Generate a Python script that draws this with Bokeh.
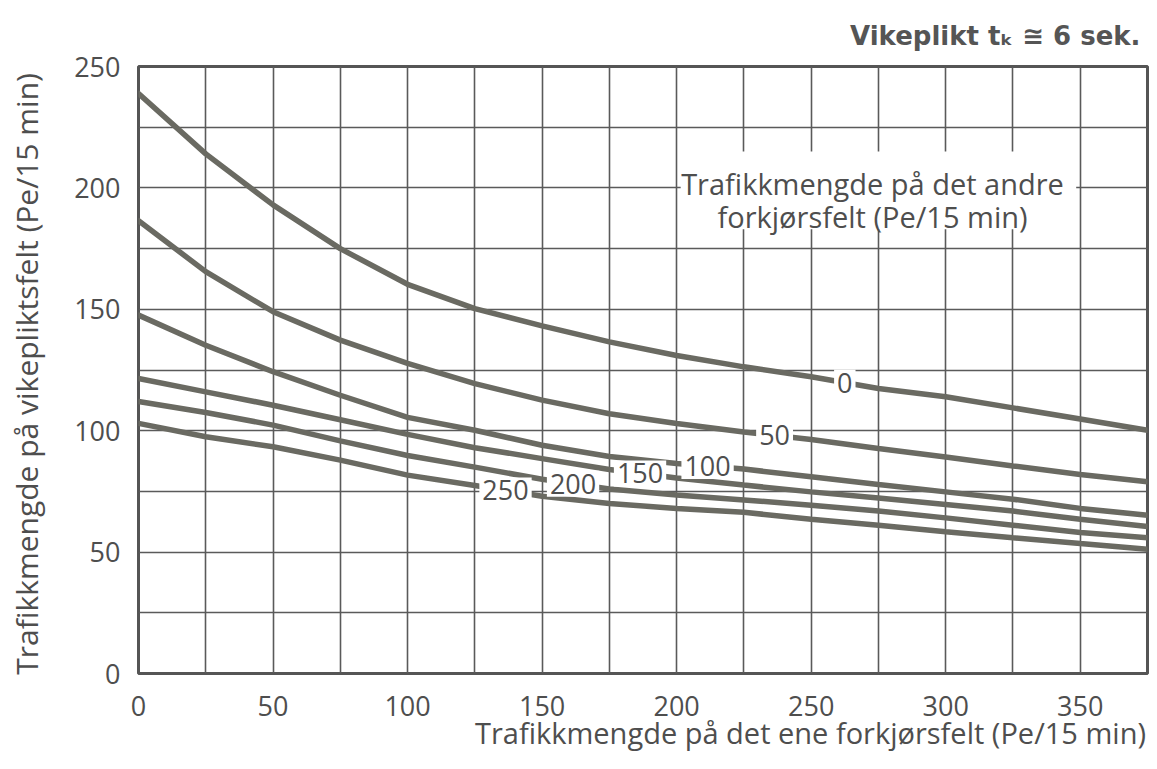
import numpy as np
from bokeh.plotting import figure
from bokeh.models import Range1d, FixedTicker, Label, BoxAnnotation, Title
from bokeh.embed import file_html
from bokeh.resources import INLINE

# ---- data ----
x_main = [0, 25, 50, 75, 100, 125, 150, 175, 200, 225, 250, 275, 300, 325, 350, 375]
other_lane_labels = ["0", "50", "100", "150", "200", "250"]
flow_0 = [238.9, 214.0, 193.0, 175.0, 160.3, 150.3, 143.2, 136.6, 131.0, 126.3, 122.2, 117.4, 114.0, 109.4, 104.8, 100.2]
flow_50 = [186.5, 165.5, 149.0, 137.3, 127.7, 119.4, 112.6, 107.0, 103.0, 99.5, 96.4, 92.7, 89.2, 85.5, 82.0, 79.0]
flow_100 = [147.6, 135.2, 124.3, 114.6, 105.5, 100.2, 94.0, 89.4, 86.5, 84.2, 81.0, 77.8, 74.8, 71.8, 68.0, 65.2]
flow_150 = [121.5, 116.0, 110.5, 104.5, 98.5, 93.0, 88.5, 84.0, 80.5, 77.6, 74.8, 72.3, 69.6, 66.9, 63.5, 60.5]
flow_200 = [112.0, 107.5, 102.3, 95.8, 89.8, 85.0, 80.0, 76.0, 73.5, 71.5, 69.3, 66.9, 64.1, 61.1, 58.1, 55.9]
flow_250 = [103.0, 97.5, 93.4, 87.9, 81.7, 77.4, 73.0, 70.0, 68.0, 66.4, 63.5, 61.1, 58.4, 55.9, 53.5, 51.2]
x_ticks = [0, 50, 100, 150, 200, 250, 300, 350]
y_ticks = [0, 50, 100, 150, 200, 250]
grid_x = [0, 25, 50, 75, 100, 125, 150, 175, 200, 225, 250, 275, 300, 325, 350, 375]
grid_y = [0, 25, 50, 75, 100, 125, 150, 175, 200, 225, 250]

series = [flow_0, flow_50, flow_100, flow_150, flow_200, flow_250]
label_x = [262.5, 236.4, 211.5, 186.4, 161.5, 136.4]  # where each curve label sits

FONT = "Open Sans"
TXT = "#4e4e4e"
CURVE = "#6a6a62"
GRID = "#5a5a5a"

p = figure(width=1149, height=753, x_range=Range1d(0, 375), y_range=Range1d(0, 250),
           output_backend="svg", toolbar_location=None,
           min_border_left=138, min_border_right=2, min_border_top=66, min_border_bottom=80)
p.background_fill_color = "white"
p.border_fill_color = "white"
p.outline_line_color = "#555555"
p.outline_line_width = 3

p.title = Title(text="Vikeplikt  t\u2096 \u2245 6 sek.", align="right", offset=-2, standoff=32,
                text_font="DejaVu Sans", text_font_style="bold", text_font_size="26px",
                text_color="#555555")

p.xgrid.ticker = FixedTicker(ticks=grid_x)
p.ygrid.ticker = FixedTicker(ticks=grid_y)
for g in (p.xgrid, p.ygrid):
    g.grid_line_color = GRID
    g.grid_line_width = 1.6
    g.grid_line_alpha = 1.0

p.xaxis.ticker = FixedTicker(ticks=x_ticks)
p.yaxis.ticker = FixedTicker(ticks=y_ticks)
for ax in (p.xaxis, p.yaxis):
    ax.axis_line_color = None
    ax.major_tick_out = 0
    ax.major_tick_in = 0
    ax.minor_tick_out = 0
    ax.minor_tick_in = 0
    ax.major_label_text_font = FONT
    ax.major_label_text_font_size = "27px"
    ax.major_label_text_color = TXT
    ax.axis_label_text_font = FONT
    ax.axis_label_text_font_style = "normal"
    ax.axis_label_text_color = TXT
p.xaxis.major_label_standoff = 22
p.yaxis.major_label_standoff = 18

p.yaxis.axis_label = "Trafikkmengde på vikepliktsfelt  (Pe/15 min)"
p.yaxis.axis_label_text_font_size = "30px"
p.yaxis.axis_label_standoff = 24

# x-axis title, right aligned under the axis
p.add_layout(Title(text="Trafikkmengde på det ene forkjørsfelt  (Pe/15 min)", align="right",
                   vertical_align="top", offset=-6, standoff=-12,
                   text_font=FONT, text_font_size="29px", text_font_style="normal",
                   text_color=TXT), "below")

# curves
for ys in series:
    p.line(x_main, ys, line_width=5.5, line_color=CURVE, line_cap="round")

# curve labels with white background
for name, lx, ys in zip(other_lane_labels, label_x, series):
    ly = float(np.interp(lx, x_main, ys))
    p.add_layout(Label(x=lx, y=ly, text=name, text_align="center", text_baseline="middle",
                       text_font=FONT, text_font_size="27px", text_color=TXT,
                       background_fill_color="white", background_fill_alpha=1.0, padding=3))

# legend box
p.add_layout(BoxAnnotation(left=201.5, right=348.5, bottom=183, top=215,
                           fill_color="white", fill_alpha=1.0, line_color=None))
p.add_layout(Label(x=272.8, y=201.8, text="Trafikkmengde på det andre", text_align="center",
                   text_baseline="alphabetic", text_font=FONT, text_font_size="29px", text_color=TXT))
p.add_layout(Label(x=272.8, y=188.2, text="forkjørsfelt (Pe/15 min)", text_align="center",
                   text_baseline="alphabetic", text_font=FONT, text_font_size="29px", text_color=TXT))

open("out.html", "w").write(file_html(p, INLINE))
